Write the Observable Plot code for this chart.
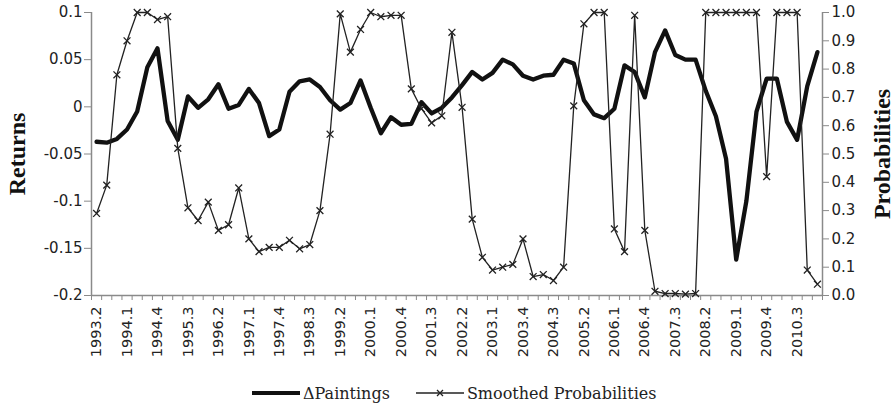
<!DOCTYPE html>
<html>
<head>
<meta charset="utf-8">
<script src="https://cdn.jsdelivr.net/npm/d3@7"></script>
<script src="https://cdn.jsdelivr.net/npm/@observablehq/plot@0.6"></script>
<style>
  html, body { margin: 0; padding: 0; background: #fff; }
  #chart { width: 896px; }
  .legend { height: 30px; margin-top: 8px; display: flex; align-items: center; padding-left: 252px;
            font-family: "DejaVu Serif", serif; font-size: 16px; color: #222; }
  .legend .item { display: flex; align-items: center; margin-right: 26px; }
  .legend svg { margin-right: 3px; }
</style>
</head>
<body>
<div id="chart"></div>
<script>
const quarters = [
  "1993.2","1993.3","1993.4","1994.1","1994.2","1994.3","1994.4","1995.1","1995.2","1995.3","1995.4",
  "1996.1","1996.2","1996.3","1996.4","1997.1","1997.2","1997.3","1997.4","1998.1","1998.2","1998.3","1998.4",
  "1999.1","1999.2","1999.3","1999.4","2000.1","2000.2","2000.3","2000.4","2001.1","2001.2","2001.3","2001.4",
  "2002.1","2002.2","2002.3","2002.4","2003.1","2003.2","2003.3","2003.4","2004.1","2004.2","2004.3","2004.4",
  "2005.1","2005.2","2005.3","2005.4","2006.1","2006.2","2006.3","2006.4","2007.1","2007.2","2007.3","2007.4",
  "2008.1","2008.2","2008.3","2008.4","2009.1","2009.2","2009.3","2009.4","2010.1","2010.2","2010.3","2010.4",
  "2011.1"
];
const paintings = [
  -0.037,-0.038,-0.034,-0.024,-0.005,0.042,0.062,-0.015,-0.035,0.011,-0.001,
  0.008,0.024,-0.002,0.002,0.019,0.004,-0.031,-0.024,0.016,0.027,0.029,0.021,
  0.007,-0.003,0.004,0.028,-0.001,-0.028,-0.011,-0.019,-0.018,0.005,-0.007,-0.001,
  0.010,0.023,0.037,0.029,0.036,0.050,0.045,0.033,0.029,0.033,0.034,0.050,
  0.046,0.007,-0.008,-0.012,-0.002,0.044,0.037,0.010,0.058,0.081,0.055,0.050,
  0.050,0.017,-0.010,-0.055,-0.162,-0.100,-0.005,0.030,0.030,-0.016,-0.035,0.022,
  0.058
];
const smoothedProb = [
  0.29,0.39,0.78,0.90,1.00,1.00,0.975,0.985,0.52,0.31,0.265,
  0.33,0.23,0.25,0.38,0.20,0.155,0.17,0.17,0.195,0.165,0.18,0.30,
  0.57,0.995,0.86,0.94,1.00,0.985,0.99,0.99,0.73,0.66,0.61,0.635,
  0.93,0.665,0.27,0.135,0.09,0.10,0.11,0.20,0.067,0.074,0.053,0.10,
  0.67,0.96,1.00,1.00,0.235,0.155,0.99,0.23,0.015,0.007,0.007,0.005,
  0.007,1.00,1.00,1.00,1.00,1.00,1.00,0.42,1.00,1.00,1.00,0.09,
  0.04
];
const xTickLabels = ["1993.2","1994.1","1994.4","1995.3","1996.2","1997.1","1997.4","1998.3","1999.2",
  "2000.1","2000.4","2001.3","2002.2","2003.1","2003.4","2004.3","2005.2","2006.1","2006.4","2007.3",
  "2008.2","2009.1","2009.4","2010.3"];
const leftTicks = [-0.2,-0.15,-0.1,-0.05,0,0.05,0.1];
const leftTickLabels = ["-0.2","-0.15","-0.1","-0.05","0","0.05","0.1"];
const rightTicks = [0,0.1,0.2,0.3,0.4,0.5,0.6,0.7,0.8,0.9,1.0];
const rightTickLabels = ["0.0","0.1","0.2","0.3","0.4","0.5","0.6","0.7","0.8","0.9","1.0"];

const yMin = -0.2, yMax = 0.1;
const pToY = p => yMin + p * (yMax - yMin);
const idx = (d, i) => i;
const xTickIdx = xTickLabels.map(l => quarters.indexOf(l));
const boundaries = d3.range(quarters.length + 1).map(i => i - 0.5);
const axisColor = "#8a8a8a";

const plot = Plot.plot({
  width: 896,
  height: 370,
  marginLeft: 91,
  marginRight: 74,
  marginTop: 12,
  marginBottom: 75,
  x: {type: "linear", domain: [-0.5, quarters.length - 0.5]},
  y: {domain: [yMin, yMax]},
  style: {fontFamily: "DejaVu Sans, sans-serif", fontSize: "15px", color: "#222", background: "#fff"},
  marks: [
    Plot.ruleX([-0.5], {stroke: axisColor, strokeWidth: 1.5}),
    Plot.ruleX([quarters.length - 0.5], {stroke: axisColor, strokeWidth: 1.5}),
    Plot.ruleY([yMin], {stroke: axisColor, strokeWidth: 1.5}),
    Plot.axisY({ticks: leftTicks, tickFormat: d => leftTickLabels[leftTicks.indexOf(d)],
      tickSize: 7, tickPadding: 2, stroke: axisColor, label: null, fontSize: 15}),
    Plot.axisY({anchor: "right", ticks: rightTicks.map(pToY),
      tickFormat: d => rightTickLabels[Math.round((d - yMin) / (yMax - yMin) * 10)],
      tickSize: 6, tickPadding: 3, stroke: axisColor, label: null, fontSize: 15}),
    Plot.axisX({ticks: boundaries, tickFormat: () => "", tickSize: 5, stroke: axisColor, label: null}),
    Plot.axisX({ticks: xTickIdx, tickFormat: d => quarters[d], tickSize: 0, tickPadding: 11,
      tickRotate: -90, label: null, fontSize: 14.5}),
    Plot.text(["Returns"], {frameAnchor: "left", dx: -74, rotate: -90, textAnchor: "middle",
      fontFamily: "Liberation Serif, serif", fontWeight: "bold", fontSize: 24, fill: "#111"}),
    Plot.text(["Probabilities"], {frameAnchor: "right", dx: 60, rotate: -90, textAnchor: "middle",
      fontFamily: "Liberation Serif, serif", fontWeight: "bold", fontSize: 24, fill: "#111"}),
    Plot.line(paintings, {x: idx, y: d => d, stroke: "#111", strokeWidth: 4.3,
      strokeLinejoin: "round", strokeLinecap: "round"}),
    Plot.line(smoothedProb, {x: idx, y: p => pToY(p), stroke: "#222", strokeWidth: 1.3}),
    Plot.dot(smoothedProb, {x: idx, y: p => pToY(p), symbol: "times", r: 3.2,
      stroke: "#222", strokeWidth: 1.3})
  ]
});
document.getElementById("chart").appendChild(plot);

const legend = document.createElement("div");
legend.className = "legend";
legend.innerHTML = `
  <div class="item"><svg width="48" height="10"><line x1="0" x2="48" y1="5" y2="5" stroke="#111" stroke-width="4"/></svg><span>ΔPaintings</span></div>
  <div class="item"><svg width="48" height="10"><line x1="0" x2="48" y1="5" y2="5" stroke="#222" stroke-width="1.3"/><path d="M21,2L27,8M27,2L21,8" stroke="#222" stroke-width="1.3"/></svg><span>Smoothed Probabilities</span></div>`;
document.getElementById("chart").appendChild(legend);
</script>
</body>
</html>
